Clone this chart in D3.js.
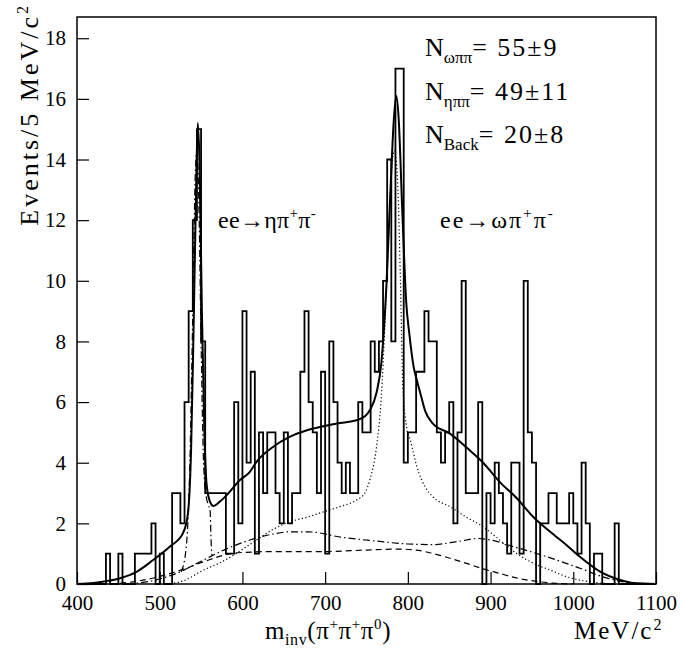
<!DOCTYPE html>
<html><head><meta charset="utf-8">
<script src="https://cdn.jsdelivr.net/npm/d3@7"></script>
<style>
body{margin:0;background:#fff}
svg{display:block}
text{font-family:"Liberation Serif","Times New Roman",serif !important;fill:#000}
</style>
</head><body>
<svg id="chart" width="683" height="649"></svg>
<script>
// ---------------- data ----------------
const binStart = 400;
const binWidth = 5;
const counts = [
  0,0,0,0,0,0,0,1,0,0,
  1,0,0,0,1,1,1,1,2,0,
  1,0,0,3,3,2,6,9,12,15,
  8,3,3,3,3,3,1,1,6,2,
  9,4,7,1,5,3,5,5,3,2,
  5,2,3,3,7,9,6,5,3,7,
  1,8,6,4,3,4,3,3,6,5,
  5,8,7,8,10,14,8,17,17,4,
  5,5,7,7,9,8,8,5,4,5,
  6,2,5,10,3,3,3,6,0,3,
  2,4,3,2,1,4,4,1,10,5,
  4,0,2,2,3,3,2,2,2,3,
  2,1,4,2,0,1,1,0,0,0,
  2,0,0,0,0,0,0,0,0,0
];
const xTickLabels = [400,500,600,700,800,900,1000,1100];
const yTickLabels = [0,2,4,6,8,10,12,14,16,18];

// total fit (solid)
const totalMass = [400,420,432,452,472,492,512,528,534,538,541,544,546,548,551,554,557,561,565,572,581,597,609,617,637,657,678,698,718,738,748,754,762,768,774,779,783,786,789,793,798,802,807,811,815,821,830,851,871,891,911,932,952,972,992,1008,1033,1057,1073,1100];
const totalVal  = [0,0.03,0.08,0.19,0.4,0.79,1.23,1.67,2.3,4.5,8.5,13,15.2,14,9,5,3.2,2.7,2.57,2.7,2.93,3.43,3.7,4.03,4.52,4.85,5.07,5.2,5.31,5.4,5.53,5.73,6.3,7.3,9.8,13,15.3,16.1,15.3,12.5,9.3,8.2,7.16,6.7,6.3,5.7,5.3,4.96,4.5,4.0,3.37,2.82,2.2,1.72,1.28,0.9,0.4,0.13,0.03,0];
// omega pi pi component (dotted)
const omegaMass = [500,515,530,553,573,595,617,637,657,678,698,718,738,748,754,762,768,772,776,780,784,788,791,794,799,803,811,821,830,851,871,891,911,932,952,972,992,1008,1030,1050];
const omegaVal  = [0,0.02,0.12,0.46,0.7,1.05,1.45,1.8,2.05,2.2,2.38,2.55,2.77,3.0,3.43,4.5,6.2,8.4,11,13.5,14.3,13,10,6.5,5.1,4.74,3.86,3.2,2.88,2.55,2.2,1.89,1.45,1.0,0.68,0.46,0.24,0.13,0.04,0];
// background (dashed)
const backMass = [440,470,500,530,560,585,600,640,700,750,790,810,831,851,871,891,911,931,952,975,1000];
const backVal  = [0,0.08,0.25,0.5,0.8,1.0,1.04,1.07,1.07,1.12,1.15,1.12,1.0,0.85,0.68,0.5,0.35,0.2,0.1,0.03,0];
// eta pi pi broad component (dash-dot)
const etaBroadMass = [460,490,520,550,580,609,637,657,680,718,760,800,830,860,885,900,928,968,1008,1040,1065,1080];
const etaBroadVal  = [0,0.1,0.35,0.75,1.15,1.45,1.65,1.72,1.72,1.55,1.42,1.32,1.3,1.4,1.5,1.45,1.23,0.9,0.52,0.2,0.05,0];
// eta peak (dash-dot)
const etaPeakMass = [526,532,536,540,543,545,547,550,553,556,559,561,562,563];
const etaPeakVal  = [0.4,1.2,3.5,9,13.5,14.3,13,8,4,2.9,2.6,2.4,1.5,0.95];

const legendSubs = ["ωππ","ηππ","Back"];
const legendVals = ["= 55±9","= 49±11","= 20±8"];

// ---------------- drawing ----------------
const svg = d3.select("#chart");
const L = 77, R = 656, T = 17, B = 584;
const x = d3.scaleLinear().domain([400,1100]).range([L,R]);
const y = d3.scaleLinear().domain([0,18.7]).range([B,T]);

// histogram step path
const binsData = counts.map((c,i)=>({x0: binStart+i*binWidth, x1: binStart+(i+1)*binWidth, v:c}));
let pts = [[binStart,0]];
binsData.forEach(b=>{ pts.push([b.x0,b.v]); pts.push([b.x1,b.v]); });
pts.push([binStart+counts.length*binWidth,0]);
const stepLine = d3.line().x(d=>x(d[0])).y(d=>y(d[1]));
svg.append("path").attr("d", stepLine(pts))
  .attr("fill","none").attr("stroke","#000").attr("stroke-width",1.8)
  .attr("stroke-linejoin","miter");

// curves
const curveLine = d3.line().x(d=>x(d[0])).y(d=>y(d[1])).curve(d3.curveMonotoneX);
function drawCurve(ms, vs, dash, w){
  svg.append("path").attr("d", curveLine(ms.map((m,i)=>[m,vs[i]])))
    .attr("fill","none").attr("stroke","#000").attr("stroke-width",w)
    .attr("stroke-dasharray",dash);
}
drawCurve(backMass, backVal, "6,4", 1.2);
drawCurve(etaBroadMass, etaBroadVal, "7,3,1.5,3", 1.2);
drawCurve(etaPeakMass, etaPeakVal, "7,3,1.5,3", 1.2);
drawCurve(omegaMass, omegaVal, "1.2,2.4", 1.2);
drawCurve(totalMass, totalVal, null, 2);

// frame
svg.append("rect").attr("x",L).attr("y",T).attr("width",R-L).attr("height",B-T)
  .attr("fill","none").attr("stroke","#000").attr("stroke-width",1.5);

// x axis ticks (inward)
const xMinor = d3.range(400,1101,20);
const gx = svg.append("g").attr("transform",`translate(0,${B})`);
gx.call(d3.axisBottom(x).tickValues(xMinor).tickSize(-6).tickFormat(""));
gx.call(d3.axisBottom(x).tickValues(xTickLabels).tickSize(-12).tickPadding(11).tickFormat(d3.format("d")));
gx.select(".domain").remove();
gx.selectAll("line").attr("stroke","#000").attr("stroke-width",1.2);
gx.selectAll("text").style("font-size","21px");

const yMinor = d3.range(0,18.51,0.5);
const gy = svg.append("g").attr("transform",`translate(${L},0)`);
gy.call(d3.axisLeft(y).tickValues(yMinor).tickSize(-6).tickFormat(""));
gy.call(d3.axisLeft(y).tickValues(yTickLabels).tickSize(-12).tickPadding(11).tickFormat(d3.format("d")));
gy.select(".domain").remove();
gy.selectAll("line").attr("stroke","#000").attr("stroke-width",1.2);
gy.selectAll("text").style("font-size","21px");

// y title
const yt = svg.append("text").attr("transform","translate(38,3) rotate(-90)")
  .attr("text-anchor","end").style("font-size","26px").style("letter-spacing","3px");
yt.append("tspan").text("Events/5  MeV/c");
yt.append("tspan").style("font-size","16px").attr("dy",-10).text("2");

// x title
const xt = svg.append("text").attr("x",265).attr("y",639).style("font-size","25px").style("letter-spacing","0.6px");
xt.append("tspan").text("m");
xt.append("tspan").style("font-size","16px").attr("dy",6).text("inv");
xt.append("tspan").attr("dy",-6).text("(π");
xt.append("tspan").style("font-size","15px").attr("dy",-10).text("+");
xt.append("tspan").attr("dy",10).text("π");
xt.append("tspan").style("font-size","15px").attr("dy",-10).text("+");
xt.append("tspan").attr("dy",10).text("π");
xt.append("tspan").style("font-size","15px").attr("dy",-10).text("0");
xt.append("tspan").attr("dy",10).text(")");

const ut = svg.append("text").attr("x",574).attr("y",639).style("font-size","25px").style("letter-spacing","2px");
ut.append("tspan").text("MeV/c");
ut.append("tspan").style("font-size","16px").attr("dy",-9).text("2");

// legend numbers
legendSubs.forEach((s,i)=>{
  const t = svg.append("text").attr("x",425).attr("y",56+i*43.5).style("font-size","26px");
  t.append("tspan").text("N");
  t.append("tspan").style("font-size","17px").attr("dy",7).text(s);
  t.append("tspan").attr("dy",-7).style("letter-spacing","2px").text(legendVals[i]);
});

// process labels
function proc(xp, meson, ls){
  const t = svg.append("text").attr("x",xp).attr("y",228).style("font-size","24px").style("letter-spacing",ls+"px");
  t.append("tspan").text("ee→"+meson+"π");
  t.append("tspan").style("font-size","15px").attr("dy",-10).text("+");
  t.append("tspan").attr("dy",10).text("π");
  t.append("tspan").style("font-size","15px").attr("dy",-10).text("-");
}
proc(218,"η",0.3);
proc(440,"ω",2);
</script>
</body></html>
